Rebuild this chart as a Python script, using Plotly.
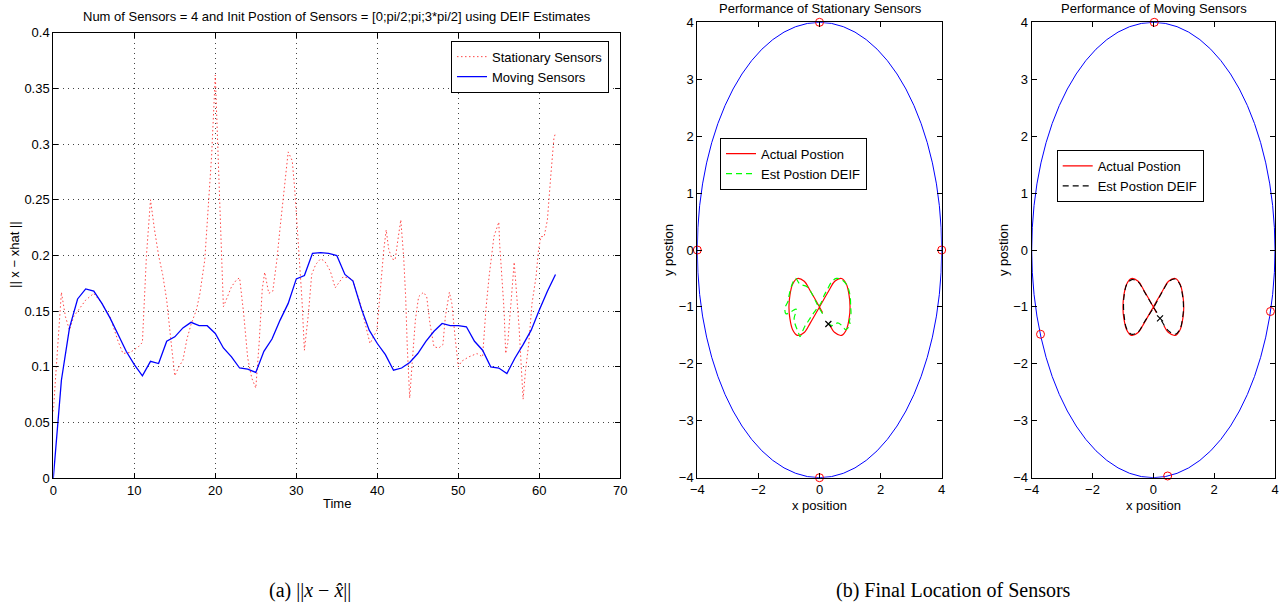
import plotly.graph_objects as go

# ---------------- error vs time ----------------
time_moving = list(range(0, 63))
err_moving = [0.0, 0.088, 0.135, 0.161, 0.170, 0.168, 0.157, 0.144, 0.129, 0.114,
              0.102, 0.092, 0.105, 0.103, 0.123, 0.127, 0.135, 0.140, 0.137, 0.137,
              0.130, 0.117, 0.109, 0.099, 0.098, 0.095, 0.114, 0.125, 0.142, 0.157,
              0.179, 0.182, 0.202, 0.2025, 0.202, 0.200, 0.183, 0.177, 0.153, 0.133,
              0.121, 0.111, 0.097, 0.099, 0.104, 0.112, 0.123, 0.132, 0.139, 0.137,
              0.137, 0.136, 0.123, 0.115, 0.100, 0.099, 0.094, 0.108, 0.120, 0.133,
              0.151, 0.168, 0.183]

time_stationary = [0, 1, 1.5, 2, 2.5, 3, 4, 5, 6, 7, 8, 8.6, 9.5, 10.5, 11, 11.5, 12, 12.5,
                   13, 13.5, 14, 14.5, 15, 15.5, 16, 16.5, 17, 17.7, 18.1, 18.7, 19.1,
                   19.55, 20, 20.4, 20.8, 21, 21.5, 22, 22.6, 23, 23.5, 24, 24.5, 25,
                   25.4, 25.8, 26.1, 26.6, 27.1, 27.6, 28, 28.5, 29, 29.5, 29.8, 30.3,
                   30.7, 31, 31.5, 31.9, 32.4, 33, 33.5, 34.2, 34.8, 35.2, 35.8, 36.9,
                   37.9, 38.5, 39.1, 39.95, 40.4, 40.8, 41.1, 41.4, 41.8, 42.2, 42.6,
                   42.9, 43.25, 43.5, 43.7, 44, 44.3, 44.7, 45.1, 45.7, 46.1, 46.5, 47,
                   47.6, 48.1, 48.4, 48.9, 49.2, 49.6, 50, 50.4, 51.3, 52.3, 53, 53.4,
                   53.8, 54.4, 55, 55.1, 55.4, 55.65, 55.85, 56.1, 56.5, 56.9, 57.1, 57.5,
                   57.8, 58, 58.3, 58.7, 59.1, 59.6, 59.9, 60.2, 60.6, 61, 61.4, 61.8, 62]
err_stationary = [0.06, 0.167, 0.145, 0.133, 0.145, 0.15, 0.16, 0.166, 0.157, 0.145, 0.123,
                  0.112, 0.113, 0.118, 0.122, 0.2, 0.25, 0.223, 0.2, 0.183, 0.16, 0.125,
                  0.092, 0.1, 0.106, 0.125, 0.138, 0.152, 0.166, 0.196, 0.24, 0.29, 0.362,
                  0.285, 0.195, 0.154, 0.163, 0.172, 0.178, 0.18, 0.148, 0.108, 0.09,
                  0.081, 0.12, 0.17, 0.185, 0.166, 0.168, 0.196, 0.225, 0.26, 0.293,
                  0.285, 0.26, 0.205, 0.16, 0.115, 0.148, 0.183, 0.192, 0.197, 0.195,
                  0.186, 0.171, 0.175, 0.181, 0.179, 0.157, 0.139, 0.121, 0.133, 0.175,
                  0.205, 0.223, 0.206, 0.197, 0.196, 0.217, 0.232, 0.199, 0.163, 0.118,
                  0.072, 0.103, 0.142, 0.163, 0.167, 0.163, 0.139, 0.118, 0.117, 0.12,
                  0.145, 0.167, 0.157, 0.127, 0.1, 0.105, 0.109, 0.112, 0.109, 0.151,
                  0.181, 0.217, 0.23, 0.211, 0.181, 0.151, 0.112, 0.121, 0.157, 0.194,
                  0.175, 0.136, 0.097, 0.071, 0.097, 0.121, 0.157, 0.181, 0.205, 0.217,
                  0.217, 0.232, 0.27, 0.305, 0.31]

err_xticks = [0, 10, 20, 30, 40, 50, 60, 70]
err_yticks = [0, 0.05, 0.1, 0.15, 0.2, 0.25, 0.3, 0.35, 0.4]
err_yticktext = ["0", "0.05", "0.1", "0.15", "0.2", "0.25", "0.3", "0.35", "0.4"]

# ---------------- target trajectory (figure eight) ----------------
actual_x = [0.10, 0.0, -0.3, -0.5, -0.72, -0.88, -0.97, -1.0, -0.97, -0.88, -0.72, -0.5,
            -0.3, 0.0, 0.3, 0.5, 0.72, 0.88, 0.97, 1.0, 0.97, 0.88, 0.72, 0.5, 0.35]
actual_y = [-1.1, -1.0, -0.72, -0.55, -0.5, -0.6, -0.8, -1.0, -1.2, -1.4, -1.5, -1.45,
            -1.28, -1.0, -0.72, -0.55, -0.5, -0.6, -0.8, -1.0, -1.2, -1.4, -1.5, -1.45,
            -1.33]

est_stat_x = [0.10, -0.05, -0.17, -0.3, -0.42, -0.64, -0.78, -0.88, -0.99, -1.03, -1.13,
              -1.1, -0.92, -0.76, -0.83, -0.8, -0.69, -0.64, -0.5, -0.38, -0.25, -0.1,
              0.05, 0.15, 0.25, 0.4, 0.55, 0.72, 0.9, 1.0, 1.02, 1.03, 0.98, 1.0, 0.85,
              0.77, 0.6, 0.45, 0.3]
est_stat_y = [-1.12, -0.98, -0.85, -0.72, -0.64, -0.6, -0.5, -0.58, -0.78, -0.9, -1.02,
              -1.12, -1.08, -1.04, -1.2, -1.3, -1.45, -1.52, -1.36, -1.26, -1.15, -1.04,
              -0.93, -0.8, -0.7, -0.56, -0.5, -0.52, -0.62, -0.8, -1.0, -1.12, -1.25,
              -1.32, -1.4, -1.35, -1.28, -1.33, -1.3]

est_mov_x = [0.12, 0.0, -0.3, -0.5, -0.7, -0.87, -0.96, -0.98, -0.95, -0.88, -0.72, -0.5,
             -0.3, 0.0, 0.3, 0.5, 0.7, 0.87, 0.96, 0.99, 0.96, 0.87, 0.72, 0.5, 0.22]
est_mov_y = [-1.1, -1.0, -0.73, -0.56, -0.52, -0.6, -0.8, -1.0, -1.2, -1.38, -1.48, -1.44,
             -1.27, -1.02, -0.73, -0.56, -0.51, -0.6, -0.8, -1.0, -1.2, -1.4, -1.48,
             -1.42, -1.2]

# final sensor locations and final estimate
stat_sensor_x = [0, -4, 0, 4]
stat_sensor_y = [4, 0, -4, 0]
mov_sensor_x = [0.03, -3.71, 0.47, 3.85]
mov_sensor_y = [4.0, -1.48, -3.97, -1.08]
stat_final = (0.29, -1.3)
mov_final = (0.22, -1.2)

pos_ticks_x = [-4, -2, 0, 2, 4]
pos_ticks_y = [-4, -3, -2, -1, 0, 1, 2, 3, 4]

W, H = 1284, 606
FONT = "Liberation Sans, Arial, sans-serif"
SERIF = "Liberation Serif, Times New Roman, serif"
FS = 13


def px_x(v):
    return v / W


def px_y(v):
    return 1 - v / H


fig = go.Figure()

fig.add_trace(go.Scatter(
    x=time_stationary, y=err_stationary, mode="lines", name="Stationary Sensors",
    line=dict(color="rgb(255,70,70)", width=1, dash="1.5px,2.5px"),
    xaxis="x", yaxis="y", legend="legend"))
fig.add_trace(go.Scatter(
    x=time_moving, y=err_moving, mode="lines", name="Moving Sensors",
    line=dict(color="rgb(0,0,255)", width=1.3),
    xaxis="x", yaxis="y", legend="legend"))

# stationary sensors panel
fig.add_trace(go.Scatter(
    x=actual_x, y=actual_y, mode="lines", name="Actual Postion",
    line=dict(color="rgb(255,0,0)", width=1.2, shape="spline"),
    xaxis="x2", yaxis="y2", legend="legend2"))
fig.add_trace(go.Scatter(
    x=est_stat_x, y=est_stat_y, mode="lines", name="Est Postion DEIF",
    line=dict(color="rgb(0,255,0)", width=1.2, dash="6px,4px", shape="spline"),
    xaxis="x2", yaxis="y2", legend="legend2"))
fig.add_trace(go.Scatter(
    x=stat_sensor_x, y=stat_sensor_y, mode="markers", showlegend=False,
    marker=dict(symbol="circle-open", size=8, color="rgb(255,0,0)", line=dict(width=1)),
    cliponaxis=False, xaxis="x2", yaxis="y2"))
fig.add_trace(go.Scatter(
    x=[stat_final[0]], y=[stat_final[1]], mode="markers", showlegend=False,
    marker=dict(symbol="x-thin-open", size=6, color="black", line=dict(width=1.2, color="black")),
    xaxis="x2", yaxis="y2"))

# moving sensors panel
fig.add_trace(go.Scatter(
    x=actual_x, y=actual_y, mode="lines", name="Actual Postion",
    line=dict(color="rgb(255,0,0)", width=1.2, shape="spline"),
    xaxis="x3", yaxis="y3", legend="legend3"))
fig.add_trace(go.Scatter(
    x=est_mov_x, y=est_mov_y, mode="lines", name="Est Postion DEIF",
    line=dict(color="black", width=1.1, dash="6px,4px", shape="spline"),
    xaxis="x3", yaxis="y3", legend="legend3"))
fig.add_trace(go.Scatter(
    x=mov_sensor_x, y=mov_sensor_y, mode="markers", showlegend=False,
    marker=dict(symbol="circle-open", size=8, color="rgb(255,0,0)", line=dict(width=1)),
    cliponaxis=False, xaxis="x3", yaxis="y3"))
fig.add_trace(go.Scatter(
    x=[mov_final[0]], y=[mov_final[1]], mode="markers", showlegend=False,
    marker=dict(symbol="x-thin-open", size=6, color="black", line=dict(width=1.2, color="black")),
    xaxis="x3", yaxis="y3"))

axis_common = dict(showline=True, linecolor="black", linewidth=1, mirror="ticks",
                   ticks="inside", ticklen=5, tickcolor="black", zeroline=False,
                   automargin=False,
                   tickfont=dict(family=FONT, size=FS, color="black"))

legend_common = dict(xanchor="left", yanchor="top", bgcolor="white",
                     bordercolor="black", borderwidth=1, tracegroupgap=0,
                     itemwidth=30, font=dict(family=FONT, size=FS))

fig.update_layout(
    width=W, height=H,
    margin=dict(l=0, r=0, t=0, b=0, autoexpand=False),
    paper_bgcolor="white", plot_bgcolor="white",
    font=dict(family=FONT, size=FS, color="black"),
    xaxis=dict(domain=[px_x(53.3), px_x(620.3)], range=[0, 70], tickvals=err_xticks,
               showgrid=True, gridcolor="#444", griddash="1px,4px", gridwidth=1,
               anchor="y", **axis_common),
    yaxis=dict(domain=[px_y(478.3), px_y(32.7)], range=[0, 0.4], tickvals=err_yticks,
               ticktext=err_yticktext, showgrid=True, gridcolor="#444",
               griddash="1px,4px", gridwidth=1, anchor="x", **axis_common),
    xaxis2=dict(domain=[px_x(697.3), px_x(941.7)], range=[-4, 4], tickvals=pos_ticks_x,
                showgrid=False, anchor="y2", **axis_common),
    yaxis2=dict(domain=[px_y(477.7), px_y(22.3)], range=[-4, 4], tickvals=pos_ticks_y,
                showgrid=False, anchor="x2", **axis_common),
    xaxis3=dict(domain=[px_x(1031.7), px_x(1275)], range=[-4, 4], tickvals=pos_ticks_x,
                showgrid=False, anchor="y3", **axis_common),
    yaxis3=dict(domain=[px_y(477.7), px_y(22.3)], range=[-4, 4], tickvals=pos_ticks_y,
                showgrid=False, anchor="x3", **axis_common),
    legend=dict(x=px_x(451), y=px_y(40.7), **legend_common),
    legend2=dict(x=px_x(720), y=px_y(137.7), **legend_common),
    legend3=dict(x=px_x(1056.7), y=px_y(150), **legend_common),
)

# sensor tracks (circle of radius 4 in data units)
for xr, yr in (("x2", "y2"), ("x3", "y3")):
    fig.add_shape(type="circle", xref=xr, yref=yr, x0=-4, x1=4, y0=-4, y1=4,
                  line=dict(color="rgb(0,0,255)", width=1), layer="below")

ann = []
ann.append(dict(text="Num of Sensors = 4 and Init Postion of Sensors = [0;pi/2;pi;3*pi/2] using DEIF Estimates",
                x=px_x(336.8), y=px_y(17), font=dict(size=FS)))
ann.append(dict(text="Time", x=px_x(336.8), y=px_y(503), font=dict(size=FS)))
ann.append(dict(text="|| x \u2212 xhat ||", x=px_x(15), y=px_y(255), textangle=-90, font=dict(size=FS)))
ann.append(dict(text="Performance of Stationary Sensors", x=px_x(820), y=px_y(8), font=dict(size=FS)))
ann.append(dict(text="x position", x=px_x(819.5), y=px_y(505), font=dict(size=FS)))
ann.append(dict(text="y postion", x=px_x(668), y=px_y(250), textangle=-90, font=dict(size=FS)))
ann.append(dict(text="Performance of Moving Sensors", x=px_x(1154), y=px_y(8), font=dict(size=FS)))
ann.append(dict(text="x position", x=px_x(1153.3), y=px_y(505), font=dict(size=FS)))
ann.append(dict(text="y postion", x=px_x(1003), y=px_y(250), textangle=-90, font=dict(size=FS)))
ann.append(dict(text="(a) ||<i>x</i> \u2212 <i>x\u0302</i>||", x=px_x(310), y=px_y(590),
                font=dict(family=SERIF, size=20)))
ann.append(dict(text="(b) Final Location of Sensors", x=px_x(953), y=px_y(590),
                font=dict(family=SERIF, size=20)))
for a in ann:
    a.update(xref="paper", yref="paper", showarrow=False, xanchor="center", yanchor="middle")
    a["font"].setdefault("family", FONT)
    a["font"].setdefault("color", "black")
fig.update_layout(annotations=ann)

fig.write_html("out.html")
